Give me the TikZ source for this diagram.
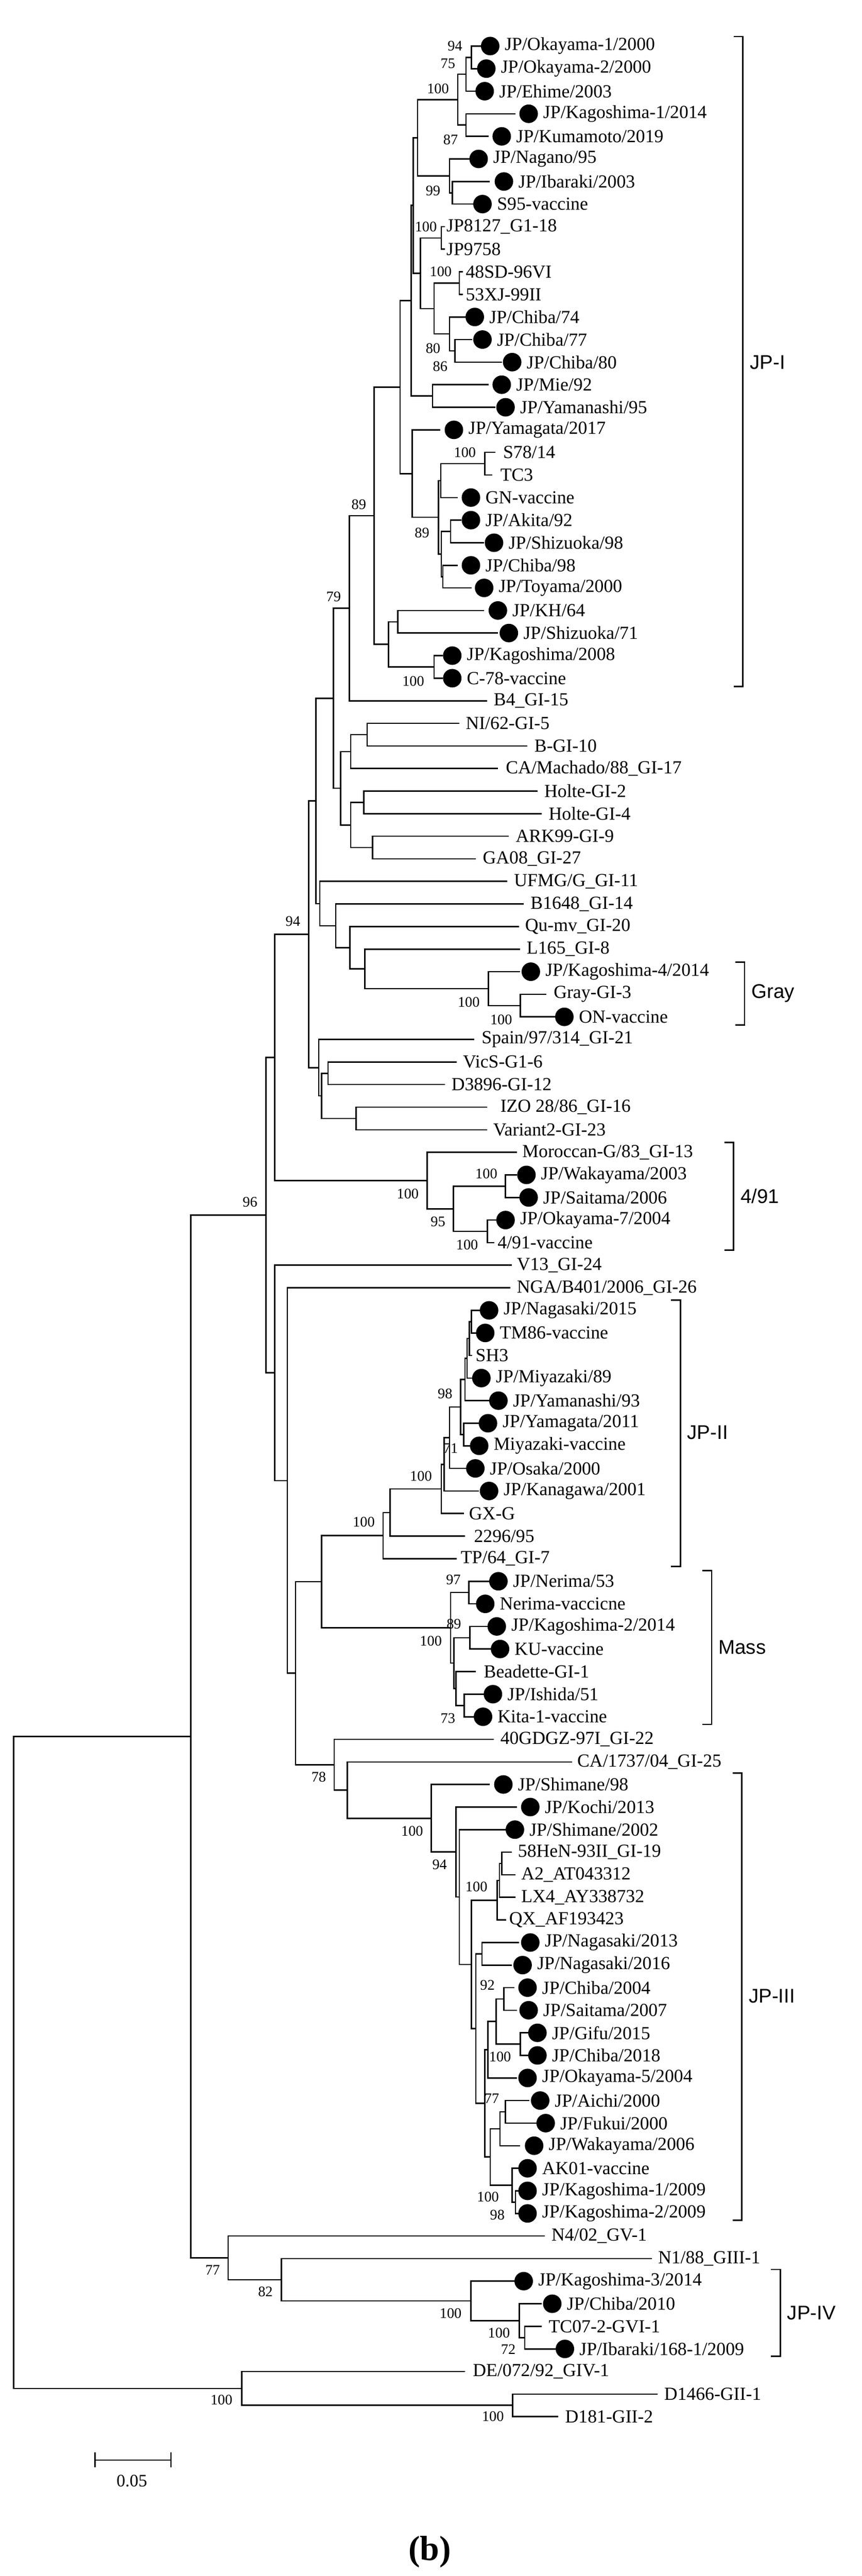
\documentclass[tikz,border=0pt]{standalone}
\usepackage{fontspec}
\setmainfont{Liberation Serif}
\newfontfamily\cladefont{Liberation Sans}
\newcounter{leafno}
\tikzset{
 br/.style={line width=0.85pt, line cap=rect},
 lf/.style={anchor=west, inner sep=0pt, font=\fontsize{11.6pt}{13pt}\selectfont},
 bsl/.style={inner sep=0pt, font=\fontsize{9.2pt}{10pt}\selectfont},
 cl/.style={anchor=west, inner sep=0pt, font=\cladefont\fontsize{12.5pt}{14pt}\selectfont},
 brk/.style={line width=0.9pt}
}
\newcommand\vbr[3]{\draw[br] (#1,#2) -- (#1,#3);}
\newcommand\hbr[3]{\draw[br] (#1,#3) -- (#2,#3);}
\newcommand\lfd[5]{\stepcounter{leafno}\draw[br] (#1,#3) -- (#2,#3); \fill (#4,#3) circle[radius=0.205cm]; \node[lf] (L\theleafno) at (#4+26,#3) {#5};}
\newcommand\lfn[5]{\stepcounter{leafno}\draw[br] (#1,#3) -- (#2,#3); \node[lf] (L\theleafno) at (#4,#3) {#5};}
\newcommand\bsv[3]{\node[bsl] at (#1,#2) {#3};}
\newcommand\cladebrk[5]{\draw[brk] (#1-17,#2) -- (#1,#2) -- (#1,#3) -- (#1-17,#3); \node[cl] (#5) at (#1+12,#4) {#5};}
\begin{document}
\begin{tikzpicture}[x=0.01217cm, y=-0.5cm]
\useasboundingbox[fill=white] (0,-2.04) rectangle (1568,112.06);
% JP-I
\vbr{858}{0}{1}\lfd{858}{875}{0}{892}{JP/Okayama-1/2000}\lfd{858}{868}{1}{885}{JP/Okayama-2/2000}
\vbr{848}{0.5}{2}\hbr{848}{858}{0.5}\lfd{848}{865}{2}{882}{JP/Ehime/2003}
\vbr{848}{3}{4}\lfd{848}{937}{3}{962}{JP/Kagoshima-1/2014}\lfd{848}{888}{4}{913}{JP/Kumamoto/2019}
\vbr{833}{1.25}{3.5}\hbr{833}{848}{1.25}\hbr{833}{848}{3.5}
\lfd{818}{855}{5}{871}{JP/Nagano/95}
\vbr{823}{6}{7}\lfd{823}{890}{6}{917}{JP/Ibaraki/2003}\lfd{823}{862}{7}{878}{S95-vaccine}
\vbr{818}{5}{6.5}\hbr{818}{823}{6.5}
\vbr{760}{2.375}{5.75}\hbr{760}{833}{2.375}\hbr{760}{818}{5.75}
\vbr{803}{8}{9}\lfn{803}{808}{8}{812}{JP8127\_G1-18}\lfn{803}{808}{9}{812}{JP9758}
\vbr{836}{10}{11}\lfn{836}{841}{10}{847}{48SD-96VI}\lfn{836}{841}{11}{847}{53XJ-99II}
\lfd{818}{848}{12}{864}{JP/Chiba/74}
\vbr{828}{13}{14}\lfd{828}{858}{13}{878}{JP/Chiba/77}\lfd{828}{912}{14}{932}{JP/Chiba/80}
\vbr{818}{12}{13.5}\hbr{818}{828}{13.5}
\vbr{790}{10.5}{12.75}\hbr{790}{836}{10.5}\hbr{790}{818}{12.75}
\vbr{765}{8.5}{11.625}\hbr{765}{803}{8.5}\hbr{765}{790}{11.625}
\vbr{752}{4.06}{10.06}\hbr{752}{760}{4.06}\hbr{752}{765}{10.06}
\vbr{787}{15}{16}\lfd{787}{888}{15}{913}{JP/Mie/92}\lfd{787}{900}{16}{920}{JP/Yamanashi/95}
\vbr{748}{7.06}{15.5}\hbr{748}{752}{7.06}\hbr{748}{787}{15.5}
\lfd{750}{800}{17}{826}{JP/Yamagata/2017}
\vbr{882}{18}{19}\lfn{882}{900}{18}{915}{S78/14}\lfn{882}{895}{19}{910}{TC3}
\vbr{802}{18.5}{20}\hbr{802}{882}{18.5}\lfd{802}{832}{20}{857}{GN-vaccine}
\vbr{820}{21}{22}\lfd{820}{838}{21}{857}{JP/Akita/92}\lfd{820}{880}{22}{899}{JP/Shizuoka/98}
\vbr{806}{23}{24}\lfd{806}{832}{23}{857}{JP/Chiba/98}\lfd{806}{857}{24}{881}{JP/Toyama/2000}
\vbr{803}{21.5}{23.5}\hbr{803}{820}{21.5}\hbr{803}{806}{23.5}
\vbr{798}{19.25}{22.5}\hbr{798}{802}{19.25}\hbr{798}{803}{22.5}
\vbr{750}{17}{20.875}\hbr{750}{798}{20.875}
\vbr{728}{11.28}{18.94}\hbr{728}{748}{11.28}\hbr{728}{750}{18.94}
\vbr{724}{25}{26}\lfd{724}{880}{25}{906}{JP/KH/64}\lfd{724}{905}{26}{926}{JP/Shizuoka/71}
\vbr{790}{27}{28}\lfd{790}{805}{27}{823}{JP/Kagoshima/2008}\lfd{790}{805}{28}{823}{C-78-vaccine}
\vbr{707}{25.5}{27.5}\hbr{707}{724}{25.5}\hbr{707}{790}{27.5}
\vbr{681}{15.11}{26.5}\hbr{681}{728}{15.11}\hbr{681}{707}{26.5}
\vbr{636}{20.805}{29}\hbr{636}{681}{20.805}\lfn{636}{885}{29}{898}{B4\_GI-15}
% GI others
\vbr{668}{30}{31}\lfn{668}{835}{30}{847}{NI/62-GI-5}\lfn{668}{958}{31}{972}{B-GI-10}
\vbr{638}{30.5}{32}\hbr{638}{668}{30.5}\lfn{638}{905}{32}{920}{CA/Machado/88\_GI-17}
\vbr{662}{33}{34}\lfn{662}{977}{33}{990}{Holte-GI-2}\lfn{662}{985}{34}{998}{Holte-GI-4}
\vbr{678}{35}{36}\lfn{678}{925}{35}{938}{ARK99-GI-9}\lfn{678}{865}{36}{878}{GA08\_GI-27}
\vbr{638}{33.5}{35.5}\hbr{638}{662}{33.5}\hbr{638}{678}{35.5}
\vbr{620}{31.25}{34.5}\hbr{620}{638}{31.25}\hbr{620}{638}{34.5}
\vbr{607}{24.9}{32.875}\hbr{607}{636}{24.9}\hbr{607}{620}{32.875}
\lfn{582}{922}{37}{935}{UFMG/G\_GI-11}
\lfn{611}{952}{38}{965}{B1648\_GI-14}
\lfn{637}{943}{39}{955}{Qu-mv\_GI-20}
\lfn{664}{945}{40}{958}{L165\_GI-8}
\lfd{889}{945}{41}{966}{JP/Kagoshima-4/2014}
\vbr{947}{42}{43}\lfn{947}{993}{42}{1007}{Gray-GI-3}\lfd{947}{1010}{43}{1027}{ON-vaccine}
\vbr{889}{41}{42.5}\hbr{889}{947}{42.5}
\vbr{664}{40}{41.75}\hbr{664}{889}{41.75}
\vbr{637}{39}{40.875}\hbr{637}{664}{40.875}
\vbr{611}{38}{39.94}\hbr{611}{637}{39.94}
\vbr{582}{37}{38.97}\hbr{582}{611}{38.97}
\vbr{575}{28.89}{37.985}\hbr{575}{607}{28.89}\hbr{575}{582}{37.985}
\lfn{580}{862}{44}{876}{Spain/97/314\_GI-21}
\vbr{597}{45}{46}\lfn{597}{830}{45}{842}{VicS-G1-6}\lfn{597}{808}{46}{821}{D3896-GI-12}
\vbr{648}{47}{48}\lfn{648}{885}{47}{910}{IZO 28/86\_GI-16}\lfn{648}{885}{48}{897}{Variant2-GI-23}
\vbr{585}{45.5}{47.5}\hbr{585}{597}{45.5}\hbr{585}{648}{47.5}
\vbr{580}{44}{46.5}\hbr{580}{585}{46.5}
\vbr{562}{33.44}{45.25}\hbr{562}{575}{33.44}\hbr{562}{580}{45.25}
% 4/91
\lfn{777}{940}{49}{950}{Moroccan-G/83\_GI-13}
\vbr{920}{50}{51}\lfd{920}{940}{50}{958}{JP/Wakayama/2003}\lfd{920}{945}{51}{962}{JP/Saitama/2006}
\vbr{887}{52}{53}\lfd{887}{905}{52}{920}{JP/Okayama-7/2004}\lfn{887}{898}{53}{905}{4/91-vaccine}
\vbr{825}{50.5}{52.5}\hbr{825}{920}{50.5}\hbr{825}{887}{52.5}
\vbr{777}{49}{51.5}\hbr{777}{825}{51.5}
\vbr{500}{39.345}{50.25}\hbr{500}{562}{39.345}\hbr{500}{777}{50.25}
% lower
\lfn{500}{930}{54}{940}{V13\_GI-24}
\lfn{523}{927}{55}{940}{NGA/B401/2006\_GI-26}
\vbr{858}{56}{57}\lfd{858}{875}{56}{890}{JP/Nagasaki/2015}\lfd{858}{868}{57}{883}{TM86-vaccine}
\vbr{854}{56.5}{58}\hbr{854}{858}{56.5}\lfn{854}{858}{58}{865}{SH3}
\vbr{850}{57.25}{59}\hbr{850}{854}{57.25}\lfd{850}{862}{59}{876}{JP/Miyazaki/89}
\vbr{846}{58.125}{60}\hbr{846}{850}{58.125}\lfd{846}{890}{60}{907}{JP/Yamanashi/93}
\vbr{844}{61}{62}\lfd{844}{872}{61}{888}{JP/Yamagata/2011}\lfd{844}{857}{62}{872}{Miyazaki-vaccine}
\vbr{838}{59.06}{61.5}\hbr{838}{846}{59.06}\hbr{838}{844}{61.5}
\vbr{818}{60.28}{63}\hbr{818}{838}{60.28}\lfd{818}{850}{63}{865}{JP/Osaka/2000}
\vbr{808}{61.64}{64}\hbr{808}{818}{61.64}\lfd{808}{870}{64}{890}{JP/Kanagawa/2001}
\vbr{803}{62.82}{65}\hbr{803}{808}{62.82}\lfn{803}{843}{65}{853}{GX-G}
\vbr{710}{63.91}{66}\hbr{710}{803}{63.91}\lfn{710}{845}{66}{862}{2296/95}
\vbr{697}{64.955}{67}\hbr{697}{710}{64.955}\lfn{697}{830}{67}{838}{TP/64\_GI-7}
\vbr{853}{68}{69}\lfd{853}{890}{68}{907}{JP/Nerima/53}\lfd{853}{867}{69}{883}{Nerima-vaccicne}
\vbr{855}{70}{71}\lfd{855}{888}{70}{904}{JP/Kagoshima-2/2014}\lfd{855}{893}{71}{910}{KU-vaccine}
\lfn{830}{865}{72}{880}{Beadette-GI-1}
\vbr{845}{73}{74}\lfd{845}{880}{73}{897}{JP/Ishida/51}\lfd{845}{862}{74}{879}{Kita-1-vaccine}
\vbr{830}{72}{73.5}\hbr{830}{845}{73.5}
\vbr{826}{70.5}{72.75}\hbr{826}{855}{70.5}\hbr{826}{830}{72.75}
\vbr{820}{68.5}{71.625}\hbr{820}{853}{68.5}\hbr{820}{826}{71.625}
\vbr{585}{65.98}{70.06}\hbr{585}{697}{65.98}\hbr{585}{820}{70.06}
\lfn{608}{897}{75}{910}{40GDGZ-97I\_GI-22}
\lfn{632}{1040}{76}{1050}{CA/1737/04\_GI-25}
\lfd{785}{890}{77}{916}{JP/Shimane/98}
\lfd{830}{940}{78}{965}{JP/Kochi/2013}
\lfd{836}{920}{79}{937}{JP/Shimane/2002}
\vbr{913}{80}{81}\lfn{913}{930}{80}{942}{58HeN-93II\_GI-19}\lfn{913}{937}{81}{948}{A2\_AT043312}
\vbr{909}{80.5}{82}\hbr{909}{913}{80.5}\lfn{909}{937}{82}{948}{LX4\_AY338732}
\vbr{905}{81.25}{83}\hbr{905}{909}{81.25}\lfn{905}{920}{83}{926}{QX\_AF193423}
\vbr{877}{84}{85}\lfd{877}{943}{84}{965}{JP/Nagasaki/2013}\lfd{877}{930}{85}{951}{JP/Nagasaki/2016}
\vbr{917}{86}{87}\lfd{917}{935}{86}{960}{JP/Chiba/2004}\lfd{917}{940}{87}{962}{JP/Saitama/2007}
\vbr{947}{88}{89}\lfd{947}{960}{88}{978}{JP/Gifu/2015}\lfd{947}{960}{89}{978}{JP/Chiba/2018}
\vbr{903}{86.5}{88.5}\hbr{903}{917}{86.5}\hbr{903}{947}{88.5}
\vbr{888}{87.5}{90}\hbr{888}{903}{87.5}\lfd{888}{940}{90}{960}{JP/Okayama-5/2004}
\vbr{920}{91}{92}\lfd{920}{962}{91}{983}{JP/Aichi/2000}\lfd{920}{975}{92}{993}{JP/Fukui/2000}
\vbr{910}{91.5}{93}\hbr{910}{920}{91.5}\lfd{910}{945}{93}{972}{JP/Wakayama/2006}
\lfd{932}{943}{94}{960}{AK01-vaccine}
\vbr{938}{95}{96}\lfd{938}{943}{95}{960}{JP/Kagoshima-1/2009}\lfd{938}{943}{96}{960}{JP/Kagoshima-2/2009}
\vbr{932}{94}{95.5}\hbr{932}{938}{95.5}
\vbr{892}{92.25}{94.75}\hbr{892}{910}{92.25}\hbr{892}{932}{94.75}
\vbr{882}{88.75}{93.5}\hbr{882}{888}{88.75}\hbr{882}{892}{93.5}
\vbr{866}{84.5}{91.125}\hbr{866}{877}{84.5}\hbr{866}{882}{91.125}
\vbr{858}{82.125}{87.81}\hbr{858}{905}{82.125}\hbr{858}{866}{87.81}
\vbr{836}{79}{84.97}\hbr{836}{858}{84.97}
\vbr{830}{78}{81.985}\hbr{830}{836}{81.985}
\vbr{785}{77}{79.99}\hbr{785}{830}{79.99}
\vbr{632}{76}{78.5}\hbr{632}{785}{78.5}
\vbr{608}{75}{77.25}\hbr{608}{632}{77.25}
\vbr{538}{68.02}{76.125}\hbr{538}{585}{68.02}\hbr{538}{608}{76.125}
\vbr{523}{55}{72.07}\hbr{523}{538}{72.07}
\vbr{500}{54}{63.54}\hbr{500}{523}{63.54}
\vbr{484}{44.80}{58.77}\hbr{484}{500}{44.80}\hbr{484}{500}{58.77}
% outgroups
\lfn{415}{990}{97}{1003}{N4/02\_GV-1}
\lfn{512}{1185}{98}{1197}{N1/88\_GIII-1}
\lfd{857}{935}{99}{953}{JP/Kagoshima-3/2014}
\lfd{945}{985}{100}{1005}{JP/Chiba/2010}
\vbr{955}{101}{102}\lfn{955}{985}{101}{998}{TC07-2-GVI-1}\lfd{955}{1010}{102}{1028}{JP/Ibaraki/168-1/2009}
\vbr{945}{100}{101.5}\hbr{945}{955}{101.5}
\vbr{857}{99}{100.75}\hbr{857}{945}{100.75}
\vbr{512}{98}{99.875}\hbr{512}{857}{99.875}
\vbr{415}{97}{98.94}\hbr{415}{512}{98.94}
\vbr{347}{51.785}{97.97}\hbr{347}{484}{51.785}\hbr{347}{415}{97.97}
\lfn{440}{845}{103}{860}{DE/072/92\_GIV-1}
\vbr{933}{104}{105}\lfn{933}{1195}{104}{1208}{D1466-GII-1}\lfn{933}{1015}{105}{1028}{D181-GII-2}
\vbr{440}{103}{104.5}\hbr{440}{933}{104.5}
\vbr{25}{74.88}{103.75}\hbr{25}{347}{74.88}\hbr{25}{440}{103.75}
% bootstrap values
\bsv{828}{0.0}{94}\bsv{815}{0.77}{75}\bsv{797}{1.88}{100}\bsv{820}{4.16}{87}\bsv{788}{6.4}{99}
\bsv{775}{8.0}{100}\bsv{802}{10.0}{100}\bsv{788}{13.4}{80}\bsv{801}{14.2}{86}\bsv{653}{20.3}{89}
\bsv{846}{18.0}{100}\bsv{768}{21.55}{89}\bsv{607}{24.4}{79}
\bsv{752}{28.14}{100}\bsv{533}{38.76}{94}\bsv{853}{42.35}{100}\bsv{912}{43.13}{100}
\bsv{885}{49.95}{100}\bsv{742}{50.84}{100}\bsv{797}{52.08}{95}\bsv{850}{53.1}{100}\bsv{455}{51.21}{96}
\bsv{810}{59.7}{98}\bsv{820}{62.1}{71}\bsv{766}{63.34}{100}\bsv{662}{65.37}{100}
\bsv{825}{67.93}{97}\bsv{826}{69.9}{89}\bsv{784}{70.65}{100}\bsv{815}{74.07}{73}
\bsv{580}{76.68}{78}\bsv{750}{79.07}{100}\bsv{800}{80.54}{94}\bsv{867}{81.52}{100}
\bsv{887}{85.9}{92}\bsv{910}{89.06}{100}\bsv{895}{90.9}{77}\bsv{888}{95.27}{100}\bsv{905}{96.07}{98}
\bsv{387}{98.51}{77}\bsv{483}{99.47}{82}\bsv{820}{100.43}{100}\bsv{908}{101.29}{100}\bsv{925}{102.02}{72}
\bsv{403}{104.27}{100}\bsv{897}{105.0}{100}
% clade brackets
\cladebrk{1352}{-0.42}{28.36}{14.02}{JP-I}
\cladebrk{1355}{40.58}{43.36}{41.96}{Gray}
\cladebrk{1335}{48.56}{53.34}{50.94}{4/91}
\cladebrk{1238}{55.54}{67.34}{61.42}{JP-II}
\cladebrk{1295}{67.52}{74.34}{70.92}{Mass}
\cladebrk{1350}{76.5}{96.3}{86.38}{JP-III}
\cladebrk{1420}{98.48}{102.32}{100.4}{JP-IV}
% scale bar
\coordinate (sbA) at (173,106.92); \coordinate (sbB) at (311,106.92);
\draw[br] (sbA) -- (sbB);
\draw[br] (173,106.62) -- (173,107.22); \draw[br] (311,106.62) -- (311,107.22);
\node[inner sep=0pt, font=\fontsize{11pt}{12pt}\selectfont] (sbl) at (240,107.85) {0.05};
\node[inner sep=0pt, font=\bfseries\fontsize{22pt}{24pt}\selectfont] (cap) at (782,111.0) {(b)};
\end{tikzpicture}
\end{document}
